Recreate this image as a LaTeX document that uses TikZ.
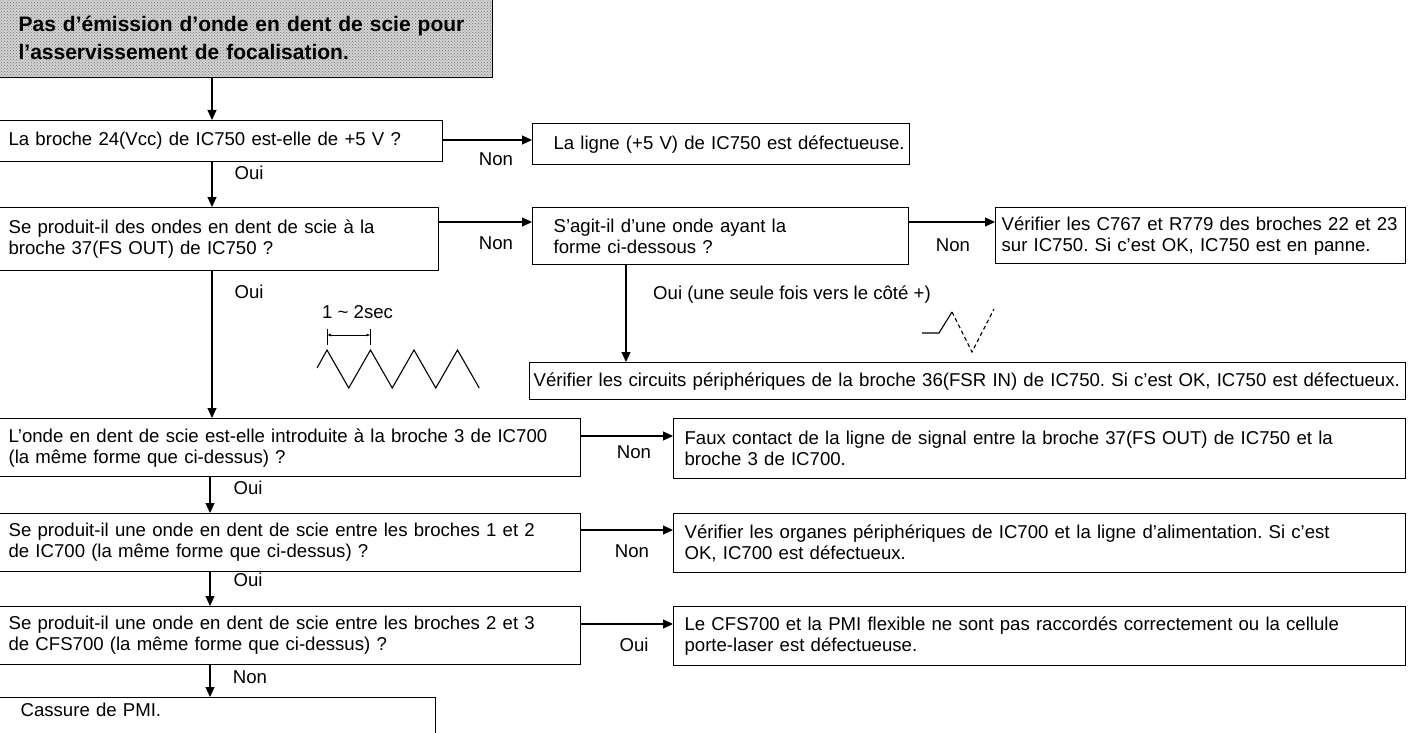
\documentclass[tikz,border=0pt]{standalone}
\usepackage{fontspec}
\setmainfont{Liberation Sans}
\usetikzlibrary{arrows.meta,patterns}
\frenchspacing
\begin{document}
\begin{tikzpicture}[x=1pt,y=-1pt,
  every node/.style={font=\fontsize{18.6}{21}\selectfont},
  box/.style={draw, line width=1.2pt, anchor=north west, align=left, inner ysep=0pt},
  arr/.style={line width=1.1pt, -{Triangle[length=10pt,width=9pt]}},
  lnk/.style={line width=1.1pt},
  lbl/.style={inner sep=0pt}]
\fill[white] (0,0) rectangle (1411,733);
\useasboundingbox (0,0) rectangle (1411,733);

% heading with halftone background
\node[draw, line width=1.2pt, anchor=north west, inner xsep=20pt, inner ysep=0pt,
      minimum height=79pt, text width=454pt, align=left,
      preaction={fill=gray!35}, pattern=crosshatch dots, pattern color=black!55,
      font=\fontsize{21}{28}\selectfont\bfseries] (t) at (-2,-2)
  {\mbox{Pas d'émission d'onde en dent de scie pour}\\\mbox{l'asservissement de focalisation.}};

% left column: questions
\node[box, inner xsep=10pt, text width=424pt, minimum height=41pt] (b1) at (-2,120)
  {\mbox{La broche 24(Vcc) de IC750 est-elle de +5 V ?}};
\node[box, inner xsep=10pt, text width=420pt, minimum height=63pt] (b2) at (-2,207)
  {\mbox{Se produit-il des ondes en dent de scie à la}\\\mbox{broche 37(FS OUT) de IC750 ?}};
\node[box, inner xsep=10pt, text width=562pt, minimum height=58pt] (b3) at (-2,418)
  {\mbox{L'onde en dent de scie est-elle introduite à la broche 3 de IC700}\\\mbox{(la même forme que ci-dessus) ?}};
\node[box, inner xsep=10pt, text width=562pt, minimum height=58pt] (b4) at (-2,513)
  {\mbox{Se produit-il une onde en dent de scie entre les broches 1 et 2}\\\mbox{de IC700 (la même forme que ci-dessus) ?}};
\node[box, inner xsep=10pt, text width=562pt, minimum height=58pt] (b5) at (-2,606)
  {\mbox{Se produit-il une onde en dent de scie entre les broches 2 et 3}\\\mbox{de CFS700 (la même forme que ci-dessus) ?}};
\node[box, inner xsep=22pt, inner ysep=5pt, text width=393pt, text depth=40pt] (k) at (-2,697)
  {\mbox{Cassure de PMI.}};

% middle and right columns
\node[box, inner xsep=21pt, text width=335pt, minimum height=41pt] (r1) at (532,123)
  {\mbox{La ligne (+5 V) de IC750 est défectueuse.}};
\node[box, inner xsep=21pt, text width=334pt, minimum height=57pt] (s) at (532,207)
  {\mbox{S'agit-il d'une onde ayant la}\\\mbox{forme ci-dessous ?}};
\node[box, inner xsep=6pt, text width=398pt, minimum height=56pt] (c) at (995,207)
  {\mbox{Vérifier les C767 et R779 des broches 22 et 23}\\\mbox{sur IC750. Si c'est OK, IC750 est en panne.}};
\node[box, inner xsep=4pt, text width=868pt, minimum height=37pt] (p) at (529,362)
  {\mbox{Vérifier les circuits périphériques de la broche 36(FSR IN) de IC750. Si c'est OK, IC750 est défectueux.}};
\node[box, inner xsep=11pt, text width=710pt, minimum height=60pt] (f) at (673,418)
  {\mbox{Faux contact de la ligne de signal entre la broche 37(FS OUT) de IC750 et la}\\\mbox{broche 3 de IC700.}};
\node[box, inner xsep=11pt, text width=710pt, minimum height=59pt] (v) at (673,513)
  {\mbox{Vérifier les organes périphériques de IC700 et la ligne d'alimentation. Si c'est}\\\mbox{OK, IC700 est défectueux.}};
\node[box, inner xsep=11pt, text width=710pt, minimum height=59pt] (l) at (673,606)
  {\mbox{Le CFS700 et la PMI flexible ne sont pas raccordés correctement ou la cellule}\\\mbox{porte-laser est défectueuse.}};

% connector guides
\coordinate (cx) at (212,0);
\coordinate (cy) at (210,0);
\coordinate (cs) at (626,0);
\coordinate (h1) at (0,140);
\coordinate (h2) at (0,222);
\coordinate (h3) at (0,436);
\coordinate (h4) at (0,530);
\coordinate (h5) at (0,624);

% vertical flow
\draw[arr] (t.south -| cx) -- (b1.north -| cx);
\draw[arr] (b1.south -| cx) -- (b2.north -| cx);
\draw[arr] (b2.south -| cx) -- (b3.north -| cx);
\draw[arr] (b3.south -| cy) -- (b4.north -| cy);
\draw[arr] (b4.south -| cy) -- (b5.north -| cy);
\draw[arr] (b5.south -| cy) -- (k.north -| cy);
\draw[arr] (s.south -| cs) -- (p.north -| cs);

% horizontal branches
\draw[arr] (b1.east |- h1) -- (r1.west |- h1);
\draw[arr] (b2.east |- h2) -- (s.west |- h2);
\draw[arr] (s.east |- h2) -- (c.west |- h2);
\draw[arr] (b3.east |- h3) -- (f.west |- h3);
\draw[arr] (b4.east |- h4) -- (v.west |- h4);
\draw[arr] (b5.east |- h5) -- (l.west |- h5);

% branch labels
\node[lbl] (n1) at (496,159) {Non};
\node[lbl] (o1) at (249,173) {Oui};
\node[lbl] (n2) at (496,243) {Non};
\node[lbl] (n3) at (953,245) {Non};
\node[lbl] (o2) at (249,292) {Oui};
\node[lbl, anchor=west] (o3) at (653,295) {Oui (une seule fois vers le côté +)};
\node[lbl] (n4) at (634,452) {Non};
\node[lbl] (o4) at (248,488) {Oui};
\node[lbl] (n5) at (632,551) {Non};
\node[lbl] (o5) at (248,580) {Oui};
\node[lbl] (o6) at (634,645) {Oui};
\node[lbl] (n6) at (250,677) {Non};

% sawtooth waveform with its period
\node[lbl, anchor=west] (per) at (322,312) {1 \textasciitilde{} 2sec};
\draw[line width=0.8pt] (327,329) -- (327,345) (370.5,329) -- (370.5,345);
\draw[line width=0.8pt, {Latex[length=4pt,width=3pt]}-{Latex[length=4pt,width=3pt]}] (327,335) -- (370.5,335);
\draw[lnk] (317,368) -- (327,350) -- (348.75,388) -- (370.5,350) -- (392.25,388)
  -- (414,350) -- (435.75,388) -- (457.5,350) -- (479.25,388);

% single excursion towards the positive side
\draw[lnk] (922,333) -- (939,333) -- (952,312);
\draw[lnk, dash pattern=on 4pt off 3pt] (952,312) -- (972,352) -- (994,309);
\end{tikzpicture}
\end{document}
